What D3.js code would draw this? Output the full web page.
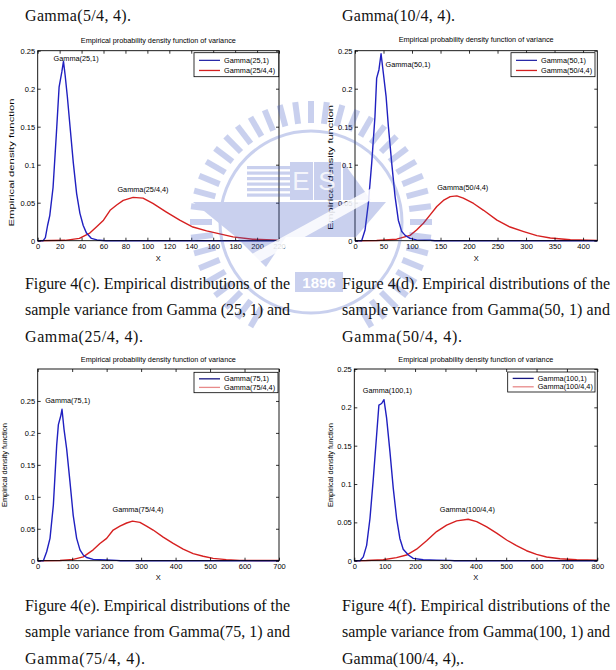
<!DOCTYPE html>
<html>
<head>
<meta charset="utf-8">
<script src="https://cdn.jsdelivr.net/npm/d3@7"></script>
<style>
  html, body { margin: 0; padding: 0; background: #fff; }
  svg { display: block; }
  .tick text { font-family: "Liberation Sans", Arial, sans-serif; font-size: 7.5px; fill: #000; }
  .tick line { stroke: #000; stroke-width: 0.8; }
</style>
</head>
<body>
<svg id="page" width="616" height="670"></svg>
<script>
// ---- data: [x, density] ----
const cBlue = [[0,0],[5,0],[7,0.004],[9,0.02],[11,0.033],[14,0.07],[17,0.14],[19.5,0.202],[22,0.222],[23.5,0.236],[25,0.218],[27,0.19],[29.5,0.15],[32.5,0.102],[35.5,0.062],[38.5,0.036],[41.5,0.02],[44.5,0.01],[49,0.003],[54,0.001],[62,0],[220,0]];
const cRed = [[0,0],[25,0.0005],[38,0.003],[47.5,0.01],[53.5,0.018],[60,0.027],[66,0.04],[72,0.047],[78,0.053],[87,0.057],[96,0.056],[105,0.049],[117,0.038],[129.5,0.027],[141.5,0.018],[154,0.013],[166,0.009],[178,0.005],[196,0.002],[220,0.0005]];
const dBlue = [[0,0],[11.7,0],[17.6,0.014],[23.4,0.049],[29.3,0.102],[35,0.163],[38,0.214],[42,0.225],[45.7,0.246],[49.8,0.22],[54.5,0.19],[58.6,0.15],[64.4,0.102],[70.3,0.058],[76,0.027],[82,0.012],[88,0.007],[96.6,0.003],[108,0.001],[132,0.0005],[140,0],[425,0]];
const dRed = [[0,0],[38,0.0003],[73,0.002],[96.6,0.007],[108,0.014],[120,0.023],[131.8,0.034],[143.5,0.045],[155,0.053],[167,0.058],[178.6,0.059],[190,0.056],[208,0.049],[225.5,0.04],[249,0.027],[272,0.018],[296,0.012],[319,0.0066],[342.6,0.0035],[377.7,0.0013],[425,0.0004]];
const eBlue = [[0,0],[16.4,0],[26,0.014],[35.7,0.035],[45.4,0.087],[55,0.18],[60,0.213],[66.6,0.226],[70.5,0.237],[76.3,0.206],[84,0.175],[93.7,0.123],[103,0.071],[113,0.035],[122.6,0.017],[132,0.009],[142,0.005],[161,0.002],[200,0.001],[229,0.0005],[240,0],[700,0]];
const eRed = [[0,0],[64.7,0.0003],[103,0.002],[132,0.006],[161,0.017],[180.5,0.027],[200,0.035],[219,0.048],[238.5,0.054],[258,0.059],[275,0.062],[296.5,0.06],[315.7,0.054],[335,0.048],[364,0.037],[393,0.027],[422,0.018],[451,0.011],[480,0.007],[509,0.0036],[547,0.0016],[586,0.0005],[700,0.0003]];
const fBlue = [[0,0],[18.7,0],[29.6,0.005],[40.6,0.02],[51.6,0.055],[62.6,0.107],[73.5,0.164],[81,0.203],[90,0.205],[97.7,0.21],[106.4,0.186],[117.4,0.142],[128.4,0.094],[139.4,0.055],[150,0.029],[161,0.015],[178,0.0074],[194,0.003],[227,0.0013],[271,0.0008],[315,0.0004],[330,0],[800,0]];
const fRed = [[0,0],[40,0.0003],[95,0.0013],[139,0.004],[172,0.0074],[205,0.015],[238,0.026],[271,0.038],[304,0.0465],[337,0.052],[375,0.054],[403,0.051],[436,0.044],[468.6,0.036],[501.5,0.027],[534,0.0196],[567,0.013],[600,0.0083],[633,0.0048],[677,0.0026],[732,0.0013],[800,0.0006]];

// tick values
const xTicksC = [0,20,40,60,80,100,120,140,160,180,200,220];
const xTicksD = [0,50,100,150,200,250,300,350,400];
const xTicksE = [0,100,200,300,400,500,600,700];
const xTicksF = [0,100,200,300,400,500,600,700,800];
const yTicks = [0,0.05,0.1,0.15,0.2,0.25];

// legend labels and curve notes [label, x, y]
const legendC = ["Gamma(25,1)", "Gamma(25/4,4)"];
const legendD = ["Gamma(50,1)", "Gamma(50/4,4)"];
const legendE = ["Gamma(75,1)", "Gamma(75/4,4)"];
const legendF = ["Gamma(100,1)", "Gamma(100/4,4)"];
const notesC = [["Gamma(25,1)", 35, 0.24], ["Gamma(25/4,4)", 96, 0.0676]];
const notesD = [["Gamma(50,1)", 93, 0.232], ["Gamma(50/4,4)", 189, 0.0697]];
const notesE = [["Gamma(75,1)", 87, 0.25], ["Gamma(75/4,4)", 291, 0.0804]];
const notesF = [["Gamma(100,1)", 109, 0.2217], ["Gamma(100/4,4)", 372, 0.067]];

const title = "Empirical probability density function of variance";
const yTitle = "Empirical density function";

// captions
const captions = [
  {x: 25, y: 21, lines: ["Gamma(5/4, 4)."], lens: [106]},
  {x: 342, y: 21, lines: ["Gamma(10/4, 4)."], lens: [113]},
  {x: 25, y: 289, lines: ["Figure 4(c). Empirical distributions of the", "sample variance from Gamma (25, 1) and", "Gamma(25/4, 4)."], lens: [265, 265, 118]},
  {x: 342, y: 289, lines: ["Figure 4(d). Empirical distributions of the", "sample variance from Gamma(50, 1) and", "Gamma(50/4, 4)."], lens: [268, 268, 120]},
  {x: 25, y: 611, lines: ["Figure 4(e). Empirical distributions of the", "sample variance from Gamma(75, 1) and", "Gamma(75/4, 4)."], lens: [265, 265, 120]},
  {x: 342, y: 611, lines: ["Figure 4(f). Empirical distributions of the", "sample variance from Gamma(100, 1) and", "Gamma(100/4, 4),."], lens: [268, 268, 122]}
];

const charts = [
  {left: 37.7, right: 279, top: 50.7, bottom: 240.7, xMax: 220, yMax: 0.25, xTicks: xTicksC,
   blue: cBlue, red: cRed, legend: legendC, notes: notesC,
   titleY: 42.7, xLabelY: 258, yLabelX: 11.7, yLabelY: 162.5, yLabelLen: 128,
   legBox: [194, 52.7, 84.7, 24], legCols: ["#2a2aa8", "#d42020"]},
  {left: 355, right: 597.3, top: 50.7, bottom: 240.7, xMax: 425, yMax: 0.25, xTicks: xTicksD,
   blue: dBlue, red: dRed, legend: legendD, notes: notesD,
   titleY: 42.3, xLabelY: 258, yLabelX: 330, yLabelY: 167.5, yLabelLen: 125,
   legBox: [511, 52.7, 84, 24], legCols: ["#2a2aa8", "#d42020"]},
  {left: 37.7, right: 279, top: 369, bottom: 560.7, xMax: 700, yMax: 0.3, xTicks: xTicksE,
   blue: eBlue, red: eRed, legend: legendE, notes: notesE,
   titleY: 361.7, xLabelY: 577, yLabelX: 4.5, yLabelY: 465, yLabelLen: 84,
   legBox: [194, 372.3, 84, 20.4], legCols: ["#161680", "#e88a8a"]},
  {left: 354.3, right: 597.3, top: 369, bottom: 560.7, xMax: 800, yMax: 0.25, xTicks: xTicksF,
   blue: fBlue, red: fRed, legend: legendF, notes: notesF,
   titleY: 361.7, xLabelY: 577, yLabelX: 330, yLabelY: 465, yLabelLen: 84,
   legBox: [507.7, 372, 87.3, 20], legCols: ["#161680", "#e88a8a"]}
];

const svg = d3.select("#page");
const sans = "'Liberation Sans', Arial, sans-serif";

function drawChart(cfg) {
  const g = svg.append("g");
  const x = d3.scaleLinear().domain([0, cfg.xMax]).range([cfg.left, cfg.right]);
  const y = d3.scaleLinear().domain([0, cfg.yMax]).range([cfg.bottom, cfg.top]);

  // curves
  const line = d3.line().x(d => x(d[0])).y(d => y(d[1]));
  g.append("path").datum(cfg.red).attr("d", line)
    .attr("fill", "none").attr("stroke", "#d62020").attr("stroke-width", 1.4).attr("stroke-linejoin", "round");
  g.append("path").datum(cfg.blue).attr("d", line)
    .attr("fill", "none").attr("stroke", "#2020c0").attr("stroke-width", 1.4).attr("stroke-linejoin", "round");

  // axes, MATLAB style ticks inside on all 4 sides
  const fmt = d => d === 0 ? "0" : String(+d.toFixed(2));
  const ax = g.append("g").attr("transform", `translate(0,${cfg.bottom})`)
    .call(d3.axisBottom(x).tickValues(cfg.xTicks).tickSize(-3).tickPadding(3).tickFormat(d3.format("d")));
  const ay = g.append("g").attr("transform", `translate(${cfg.left},0)`)
    .call(d3.axisLeft(y).tickValues(yTicks).tickSize(-3).tickPadding(2.5).tickFormat(fmt));
  const at = g.append("g").attr("transform", `translate(0,${cfg.top})`)
    .call(d3.axisTop(x).tickValues(cfg.xTicks).tickSize(-3).tickFormat(""));
  const ar = g.append("g").attr("transform", `translate(${cfg.right},0)`)
    .call(d3.axisRight(y).tickValues(yTicks).tickSize(-3).tickFormat(""));
  [ax, ay, at, ar].forEach(a => a.select(".domain").remove());
  ax.selectAll(".tick text").attr("dy", "0.71em");

  g.append("rect")
    .attr("x", cfg.left).attr("y", cfg.top)
    .attr("width", cfg.right - cfg.left).attr("height", cfg.bottom - cfg.top)
    .attr("fill", "none").attr("stroke", "#000").attr("stroke-width", 0.9);

  // title and axis labels
  g.append("text").attr("x", (cfg.left + cfg.right) / 2).attr("y", cfg.titleY)
    .attr("text-anchor", "middle").attr("font-family", sans).attr("font-size", 7)
    .attr("textLength", 155).attr("lengthAdjust", "spacingAndGlyphs").text(title);
  g.append("text").attr("x", (cfg.left + cfg.right) / 2).attr("y", cfg.xLabelY)
    .attr("text-anchor", "middle").attr("dominant-baseline", "central")
    .attr("font-family", sans).attr("font-size", 7.5).text("X");
  g.append("text")
    .attr("transform", `translate(${cfg.yLabelX},${cfg.yLabelY}) rotate(-90)`)
    .attr("text-anchor", "middle").attr("dominant-baseline", "central")
    .attr("font-family", sans).attr("font-size", 7)
    .attr("textLength", cfg.yLabelLen).attr("lengthAdjust", "spacingAndGlyphs").text(yTitle);

  // notes on the curves
  g.selectAll("text.note").data(cfg.notes).join("text").attr("class", "note")
    .attr("x", d => x(d[1])).attr("y", d => y(d[2]))
    .attr("text-anchor", "middle").attr("dominant-baseline", "central")
    .attr("font-family", sans).attr("font-size", 7.3).text(d => d[0]);

  // legend
  const [lx, ly, lw, lh] = cfg.legBox;
  g.append("rect").attr("x", lx).attr("y", ly).attr("width", lw).attr("height", lh)
    .attr("fill", "#fff").attr("stroke", "#000").attr("stroke-width", 0.8);
  cfg.legend.forEach((lab, i) => {
    const yy = ly + lh * (i === 0 ? 0.32 : 0.74);
    g.append("line").attr("x1", lx + 5).attr("x2", lx + 26).attr("y1", yy).attr("y2", yy)
      .attr("stroke", cfg.legCols[i]).attr("stroke-width", 1.3);
    g.append("text").attr("x", lx + 30).attr("y", yy).attr("dominant-baseline", "central")
      .attr("font-family", sans).attr("font-size", 7.3).text(lab);
  });
}

charts.forEach(drawChart);

// watermark (university logo), drawn light over the charts
const wm = svg.append("g").attr("opacity", 0.28).attr("fill", "#3f5bc4").attr("stroke", "none");
const cx = 311, cy = 222;
d3.range(0, 360, 7.5).filter(a => a < 62 || a > 118).forEach(a => {
  const r = a * Math.PI / 180;
  wm.append("line")
    .attr("x1", cx + 99 * Math.cos(r)).attr("y1", cy + 99 * Math.sin(r))
    .attr("x2", cx + 121 * Math.cos(r)).attr("y2", cy + 121 * Math.sin(r))
    .attr("stroke", "#3f5bc4").attr("stroke-width", 6);
});
wm.append("circle").attr("cx", cx).attr("cy", cy).attr("r", 91)
  .attr("fill", "none").attr("stroke", "#3f5bc4").attr("stroke-width", 3);
// stripes block
d3.range(0, 6).forEach(i => {
  wm.append("rect").attr("x", cx - 64).attr("y", cy - 56 + i * 5.5).attr("width", 43).attr("height", 3.2);
});
wm.append("rect").attr("x", cx - 21).attr("y", cy - 60).attr("width", 23).attr("height", 38);
wm.append("rect").attr("x", cx + 3).attr("y", cy - 60).attr("width", 27).attr("height", 38);
wm.append("path").attr("d", `M${cx + 32},${cy - 60} L${cx + 60},${cy - 22} L${cx + 32},${cy - 22} Z`);
// hull
wm.append("path").attr("d",
  `M${cx - 118},${cy - 20} L${cx + 75},${cy - 20} L${cx + 45},${cy + 15} L${cx - 25},${cy + 15} L${cx - 45},${cy + 45} L${cx - 75},${cy + 15} Z`);
// white diagonal
svg.append("path").attr("d", `M${cx - 70},${cy + 38} L${cx + 72},${cy - 40} L${cx + 78},${cy - 32} L${cx - 62},${cy + 46} Z`)
  .attr("fill", "#fff").attr("opacity", 0.85);
svg.append("text").attr("x", cx - 10).attr("y", cy - 41).attr("text-anchor", "middle").attr("dominant-baseline", "central")
  .attr("font-family", sans).attr("font-size", 26).attr("fill", "#fff").attr("opacity", 0.8).text("E");
svg.append("text").attr("x", cx + 16).attr("y", cy - 41).attr("text-anchor", "middle").attr("dominant-baseline", "central")
  .attr("font-family", sans).attr("font-size", 26).attr("fill", "#fff").attr("opacity", 0.8).text("S");
// 1896 banner
wm.append("rect").attr("x", cx - 16).attr("y", cy + 50).attr("width", 48).attr("height", 20);
svg.append("text").attr("x", cx + 8).attr("y", cy + 60).attr("text-anchor", "middle").attr("dominant-baseline", "central")
  .attr("font-family", sans).attr("font-weight", "bold").attr("font-size", 15).attr("fill", "#fff").text("1896");

// captions
captions.forEach(c => {
  c.lines.forEach((t, i) => {
    svg.append("text").attr("x", c.x).attr("y", c.y + i * 26.3)
      .attr("font-family", "'Liberation Serif', 'Times New Roman', serif").attr("font-size", 16)
      .attr("fill", "#111")
      .attr("textLength", c.lens[i]).attr("lengthAdjust", "spacing").text(t);
  });
});
</script>
</body>
</html>
